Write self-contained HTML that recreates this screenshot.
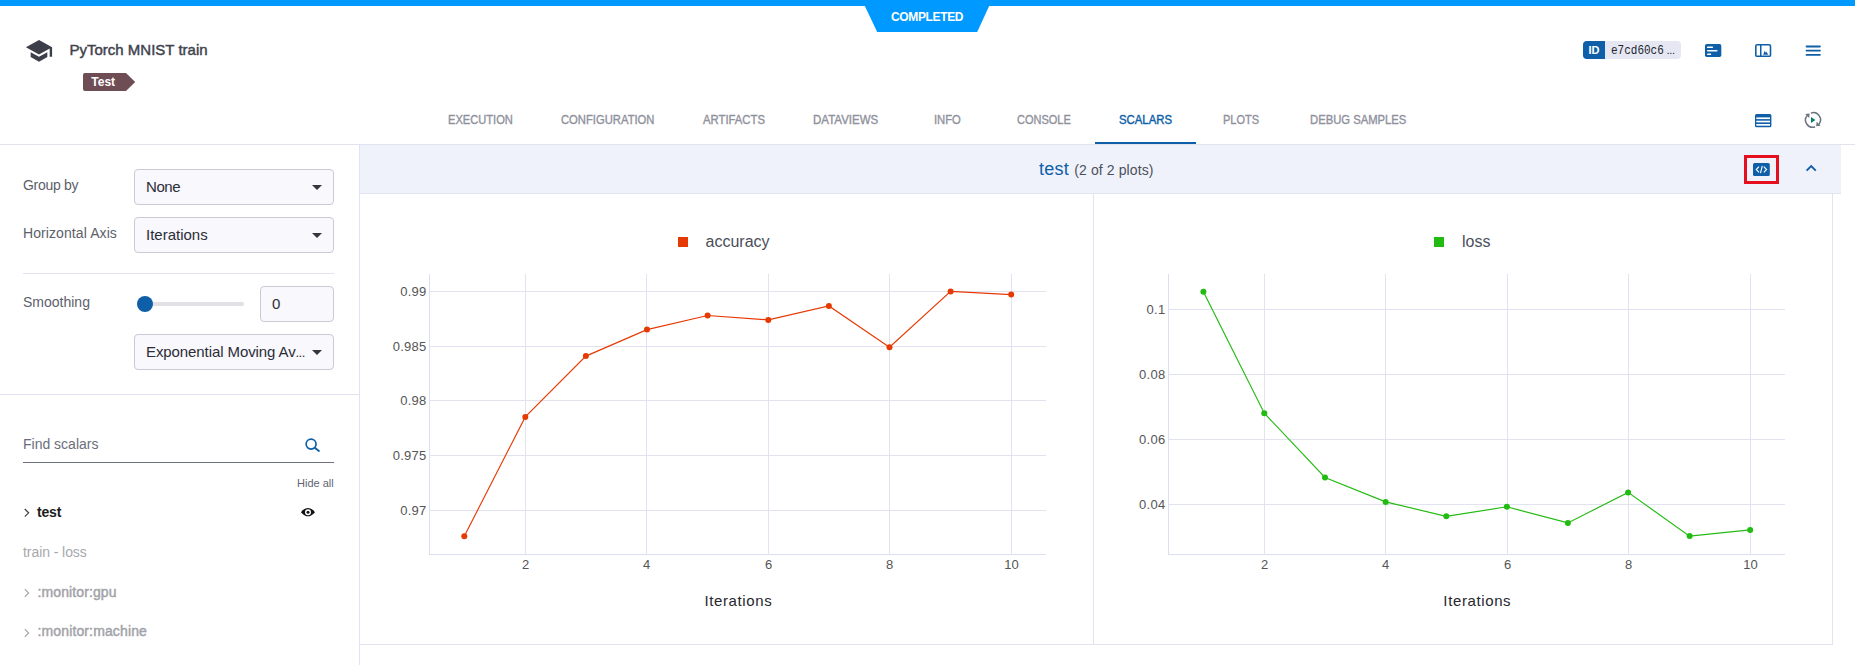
<!DOCTYPE html>
<html>
<head>
<meta charset="utf-8">
<title>PyTorch MNIST train</title>
<style>
*{box-sizing:border-box;margin:0;padding:0}
html,body{width:1855px;height:665px;overflow:hidden;background:#fff}
body{position:relative;font-family:"Liberation Sans",sans-serif;color:#5a5e6b}
.abs{position:absolute}
.t{position:absolute;white-space:nowrap;line-height:1}
#topbar{left:0;top:0;width:1855px;height:6px;background:#0099ff}
.tab{position:absolute;top:114px;font-size:12px;color:#8f919c;white-space:nowrap;line-height:12px;-webkit-text-stroke:.35px #8f919c;transform-origin:0 0}
.tab.active{color:#0e5fa8;-webkit-text-stroke:.4px #0e5fa8}
.m{-webkit-text-stroke:.4px}
.hline{position:absolute;height:1px;background:#e1e4f0}
.vline{position:absolute;width:1px;background:#e1e4f0}
.sel{position:absolute;left:134px;width:200px;height:36px;border:1px solid #c8cad6;border-radius:4px;background:#f8f8fd}
.sel .v{position:absolute;left:11px;top:7.7px;font-size:15px;line-height:17px;color:#2b2d36;white-space:nowrap}
.sel .ar{position:absolute;left:177px;top:15px;width:0;height:0;border-left:5px solid transparent;border-right:5px solid transparent;border-top:5px solid #33353f}
.lbl{position:absolute;left:23px;font-size:14px;line-height:17px;color:#5c5f6b;white-space:nowrap}
.item{position:absolute;font-size:14px;line-height:17px;white-space:nowrap}
</style>
</head>
<body>
<!-- top status bar -->
<div id="topbar" class="abs"></div>
<svg class="abs" style="left:860px;top:0" width="135" height="34" viewBox="0 0 135 34">
  <polygon points="4.6,5.5 129.4,5.5 117.2,32 17.2,32" fill="#0099ff"/>
</svg>
<div class="t" id="completed" style="left:891px;top:11px;font-size:12px;font-weight:bold;color:#fff;line-height:12px;letter-spacing:-.35px">COMPLETED</div>

<!-- header -->
<svg class="abs" style="left:20px;top:34px" width="40" height="32" viewBox="0 0 40 32">
  <path transform="translate(4.72 2.43) scale(1.19 1.2)" d="M5 13.18v4L12 21l7-3.82v-4L12 17l-7-3.82zM12 3L1 9l11 6 9-4.91V17h2V9L12 3z" fill="#3c3f49"/>
</svg>
<div class="t" id="title" style="left:69.5px;top:42px;font-size:15px;color:#3f434e;line-height:16px;-webkit-text-stroke:.45px #3f434e">PyTorch MNIST train</div>
<svg class="abs" style="left:82px;top:72px" width="56" height="20" viewBox="0 0 56 20">
  <path d="M3 1 H44 L53.2 10 L44 19 H3 Q1 19 1 17 V3 Q1 1 3 1 Z" fill="#6f4d55"/>
</svg>
<div class="t" id="tag" style="left:91.3px;top:76px;font-size:12px;font-weight:bold;color:#fff;line-height:12px">Test</div>

<!-- id badge -->
<div class="abs" style="left:1583px;top:41px;width:98px;height:18px;border-radius:4px;background:#e5e8f3;overflow:hidden">
  <div class="abs" style="left:0;top:0;width:22px;height:18px;background:#0e5fa8"></div>
</div>
<div class="t" id="idt" style="left:1588.4px;top:45px;font-size:11px;font-weight:bold;color:#fff;line-height:11px">ID</div>
<div class="t" id="idv" style="left:1611px;top:44.6px;font-size:11px;font-family:'Liberation Mono',monospace;color:#23252e;line-height:12px;transform:scaleY(1.08);transform-origin:0 50%">e7cd60c6</div>
<div class="t" id="idd" style="left:1666.5px;top:44.4px;font-size:11px;color:#23252e;line-height:12px;letter-spacing:-0.3px">...</div>

<!-- header icons -->
<svg class="abs" style="left:1700px;top:40px" width="130" height="22" viewBox="0 0 130 22">
  <!-- icon1 filled card -->
  <rect x="5" y="4" width="16.3" height="13" rx="1.8" fill="#0e5fa8"/>
  <rect x="7" y="6.6" width="6" height="1.5" rx=".7" fill="#fff"/>
  <rect x="7" y="10" width="10.5" height="1.5" rx=".7" fill="#fff"/>
  <rect x="7" y="13.4" width="4.2" height="1.5" rx=".7" fill="#fff"/>
  <!-- icon2 outlined panels -->
  <rect x="55.8" y="4.8" width="14.7" height="11.5" rx="1.4" fill="none" stroke="#0e5fa8" stroke-width="1.6"/>
  <rect x="60" y="4.8" width="1.5" height="11.5" fill="#0e5fa8"/>
  <path d="M63.2 14.8 L64.6 10.8 L65.8 12.8 L66.6 11.8 L68.2 14.8 Z" fill="#0e5fa8"/>
  <!-- icon3 hamburger -->
  <rect x="105.6" y="5.6" width="15.2" height="1.8" rx=".8" fill="#0e5fa8"/>
  <rect x="105.6" y="9.8" width="15.2" height="1.8" rx=".8" fill="#0e5fa8"/>
  <rect x="105.6" y="14" width="15.2" height="1.8" rx=".8" fill="#0e5fa8"/>
</svg>

<!-- tabs -->
<div class="tab" id="tb1" style="left:448px;transform:scaleX(0.927)">EXECUTION</div>
<div class="tab" id="tb2" style="left:561px;transform:scaleX(0.937)">CONFIGURATION</div>
<div class="tab" id="tb3" style="left:703px;transform:scaleX(0.942)">ARTIFACTS</div>
<div class="tab" id="tb4" style="left:813px;transform:scaleX(0.959)">DATAVIEWS</div>
<div class="tab" id="tb5" style="left:934px;transform:scaleX(0.937)">INFO</div>
<div class="tab" id="tb6" style="left:1017px;transform:scaleX(0.917)">CONSOLE</div>
<div class="tab active" id="tb7" style="left:1119px;transform:scaleX(0.946)">SCALARS</div>
<div class="tab" id="tb8" style="left:1223px;transform:scaleX(0.914)">PLOTS</div>
<div class="tab" id="tb9" style="left:1310px;transform:scaleX(0.938)">DEBUG SAMPLES</div>
<div class="abs" style="left:1095px;top:142px;width:101px;height:2px;background:#0e5fa8"></div>

<!-- tab row icons -->
<svg class="abs" style="left:1750px;top:108px" width="80" height="26" viewBox="0 0 80 26">
  <rect x="5" y="6" width="16.4" height="13.3" rx="1.6" fill="#0e5fa8"/>
  <rect x="6.3" y="9.4" width="13.7" height="1.7" fill="#fff"/>
  <rect x="6.3" y="12.7" width="13.7" height="1.7" fill="#fff"/>
  <rect x="6.3" y="16" width="13.7" height="1.7" fill="#fff"/>
  <!-- refresh-play -->
  <g fill="none" stroke="#6c727f" stroke-width="1.5">
    <path d="M60.9 5.1 A7.1 7.1 0 0 1 68.9 16.2"/>
    <path d="M65.1 18.7 A7.1 7.1 0 0 1 57.1 7.6"/>
  </g>
  <path d="M55.2 6 L59.6 5.6 L59.2 10 Z" fill="#6c727f"/>
  <path d="M70.6 17.8 L66.2 18.2 L66.6 13.8 Z" fill="#6c727f"/>
  <path d="M61 9 L65.4 11.9 L61 14.9 Z" fill="#0a7d67"/>
</svg>

<!-- separators -->
<div class="hline" style="left:0;top:144px;width:1855px"></div>
<div class="vline" style="left:359px;top:145px;height:520px"></div>

<!-- sidebar -->
<div class="lbl" style="top:176.6px;letter-spacing:-.31px" id="l1">Group by</div>
<div class="sel" style="top:169px"><div class="v" style="letter-spacing:-.41px">None</div><div class="ar"></div></div>
<div class="lbl" style="top:224.6px;letter-spacing:.09px" id="l2">Horizontal Axis</div>
<div class="sel" style="top:217px"><div class="v">Iterations</div><div class="ar"></div></div>
<div class="hline" style="left:23px;top:273px;width:311px"></div>
<div class="lbl" style="top:293.6px" id="l3">Smoothing</div>
<div class="abs" style="left:137px;top:302px;width:107px;height:4px;border-radius:2px;background:#dfe1e4"></div>
<div class="abs" style="left:137px;top:296px;width:16px;height:16px;border-radius:8px;background:#0e5fa8"></div>
<div class="sel" style="left:260px;top:286px;width:74px"><div class="v">0</div></div>
<div class="sel" style="top:334px"><div class="v" style="letter-spacing:-.09px">Exponential Moving Av<span style="letter-spacing:-.6px;font-size:13px">...</span></div><div class="ar"></div></div>
<div class="hline" style="left:0;top:394px;width:359px"></div>

<div class="lbl" style="top:436px;color:#6b6e7a" id="l4">Find scalars</div>
<svg class="abs" style="left:303px;top:435px" width="20" height="20" viewBox="0 0 20 20">
  <circle cx="8.1" cy="9.1" r="4.95" fill="none" stroke="#0e5fa8" stroke-width="1.7"/>
  <path d="M11.8 12.8 L15.9 16" stroke="#0e5fa8" stroke-width="1.9" stroke-linecap="round"/>
</svg>
<div class="abs" style="left:23px;top:462px;width:311px;height:1px;background:#6d707f"></div>
<div class="t" id="hideall" style="left:297px;top:478px;font-size:11px;color:#5d6472;line-height:11px">Hide all</div>

<svg class="abs" style="left:22px;top:505px" width="10" height="16" viewBox="0 0 10 16"><path d="M2.8 4 L6.6 7.8 L2.8 11.6" fill="none" stroke="#3a3d47" stroke-width="1.2"/></svg>
<div class="item" id="i1" style="left:37px;top:503.6px;letter-spacing:-.2px;font-weight:bold;color:#1b1c22">test</div>
<svg class="abs" style="left:300px;top:505px" width="16" height="14" viewBox="0 0 16 14">
  <path d="M0.9 7.2 Q8 -1.1 15 7.2 Q8 15.5 0.9 7.2 Z" fill="#111216"/>
  <circle cx="8" cy="7.2" r="3" fill="#fff"/>
  <circle cx="8" cy="7.2" r="1.5" fill="#111216"/>
</svg>
<div class="item" id="i2" style="left:23px;top:544px;letter-spacing:-.07px;color:#a7a8ad">train - loss</div>
<svg class="abs" style="left:22px;top:585px" width="10" height="16" viewBox="0 0 10 16"><path d="M2.8 4.2 L6.6 8 L2.8 11.8" fill="none" stroke="#a4a5aa" stroke-width="1.2"/></svg>
<div class="item" id="i3" style="left:37.5px;top:583.6px;letter-spacing:.11px;color:#a2a3a8;-webkit-text-stroke:.45px #a2a3a8">:monitor:gpu</div>
<svg class="abs" style="left:22px;top:625px" width="10" height="16" viewBox="0 0 10 16"><path d="M2.8 4.2 L6.6 8 L2.8 11.8" fill="none" stroke="#a4a5aa" stroke-width="1.2"/></svg>
<div class="item" id="i4" style="left:37.5px;top:623.2px;letter-spacing:.13px;color:#a2a3a8;-webkit-text-stroke:.45px #a2a3a8">:monitor:machine</div>

<!-- main section header -->
<div class="abs" style="left:360px;top:145px;width:1481px;height:49px;background:#eff2fb;border-bottom:1px solid #e1e4f1"></div>
<div class="t" id="h1" style="left:1039px;top:159px;font-size:18px;color:#0e5fa8;line-height:20px;letter-spacing:.25px">test</div>
<div class="t" id="h2" style="left:1074.3px;top:162px;font-size:14px;color:#4d505c;line-height:16px;letter-spacing:.1px">(2 of 2 plots)</div>
<div class="abs" style="left:1744px;top:155px;width:35px;height:29px;border:3px solid #e60f1e"></div>
<svg class="abs" style="left:1750px;top:160px" width="72" height="20" viewBox="0 0 72 20">
  <rect x="3" y="3" width="16.8" height="13" rx="1.6" fill="#0e5fa8"/>
  <g fill="none" stroke="#fff" stroke-width="1.1">
    <path d="M9 6.6 L6.2 9.5 L9 12.4"/>
    <path d="M13.8 6.6 L16.6 9.5 L13.8 12.4"/>
    <path d="M12.3 5.8 L10.5 13.2"/>
  </g>
  <path d="M56.6 10.6 L61.2 6 L65.8 10.6" fill="none" stroke="#0e5fa8" stroke-width="1.9"/>
</svg>

<!-- plots container borders -->
<div class="vline" style="left:1093px;top:194px;height:450px"></div>
<div class="vline" style="left:1832px;top:194px;height:451px"></div>
<div class="hline" style="left:360px;top:644px;width:1473px"></div>

<!-- CHARTS -->
<svg class="abs" id="charts" style="left:360px;top:194px" width="1472" height="450" viewBox="360 194 1472 450" font-family="Liberation Sans, sans-serif">
  <!-- left chart grid -->
  <g stroke="#e1e3f1" stroke-width="1" shape-rendering="crispEdges">
    <path d="M525.5 274V554 M646.5 274V554 M768.5 274V554 M889.5 274V554 M1011.5 274V554"/>
    <path d="M430 291.5H1046 M430 346.5H1046 M430 400.5H1046 M430 455.5H1046 M430 510.5H1046"/>
    <path d="M429.5 274V555 M429 554.5H1046" stroke="#dcdff0"/>
  </g>
  <g fill="#555" font-size="13" text-anchor="end" letter-spacing=".25">
    <text x="426.5" y="296">0.99</text>
    <text x="426.5" y="351">0.985</text>
    <text x="426.5" y="405">0.98</text>
    <text x="426.5" y="460">0.975</text>
    <text x="426.5" y="515">0.97</text>
  </g>
  <g fill="#555" font-size="13" text-anchor="middle">
    <text x="525.5" y="568.8">2</text>
    <text x="646.5" y="568.8">4</text>
    <text x="768.5" y="568.8">6</text>
    <text x="889.5" y="568.8">8</text>
    <text x="1011.5" y="568.8">10</text>
  </g>
  <text x="738.4" y="606" font-size="15" fill="#26272c" text-anchor="middle" letter-spacing=".62">Iterations</text>
  <polyline fill="none" stroke="#e63a05" stroke-width="1.15" points="464.3,536.2 525.3,416.9 585.9,356.1 647,329.6 707.6,315.5 768.3,319.9 828.9,305.9 889.5,347.2 950.6,291.4 1011.2,294.6"/>
  <g fill="#e63a05">
    <circle cx="464.3" cy="536.2" r="3"/><circle cx="525.3" cy="416.9" r="3"/><circle cx="585.9" cy="356.1" r="3"/><circle cx="647" cy="329.6" r="3"/><circle cx="707.6" cy="315.5" r="3"/><circle cx="768.3" cy="319.9" r="3"/><circle cx="828.9" cy="305.9" r="3"/><circle cx="889.5" cy="347.2" r="3"/><circle cx="950.6" cy="291.4" r="3"/><circle cx="1011.2" cy="294.6" r="3"/>
  </g>
  <rect x="678" y="237" width="10" height="10" fill="#e63a05"/>
  <text x="705.5" y="246.6" font-size="16" fill="#4a4e59">accuracy</text>

  <!-- right chart grid -->
  <g stroke="#e1e3f1" stroke-width="1" shape-rendering="crispEdges">
    <path d="M1264.5 274V554 M1385.5 274V554 M1507.5 274V554 M1628.5 274V554 M1750.5 274V554"/>
    <path d="M1169 309.5H1785 M1169 374.5H1785 M1169 439.5H1785 M1169 504.5H1785"/>
    <path d="M1168.5 274V555 M1168 554.5H1785" stroke="#dcdff0"/>
  </g>
  <g fill="#555" font-size="13" text-anchor="end" letter-spacing=".25">
    <text x="1165.4" y="314">0.1</text>
    <text x="1165.4" y="379">0.08</text>
    <text x="1165.4" y="444">0.06</text>
    <text x="1165.4" y="509">0.04</text>
  </g>
  <g fill="#555" font-size="13" text-anchor="middle">
    <text x="1264.5" y="568.8">2</text>
    <text x="1385.5" y="568.8">4</text>
    <text x="1507.5" y="568.8">6</text>
    <text x="1628.5" y="568.8">8</text>
    <text x="1750.5" y="568.8">10</text>
  </g>
  <text x="1477.3" y="606" font-size="15" fill="#26272c" text-anchor="middle" letter-spacing=".62">Iterations</text>
  <polyline fill="none" stroke="#22bb11" stroke-width="1.15" points="1203.4,291.7 1264.3,413.2 1325,477.5 1385.6,501.9 1446.3,516.3 1506.9,506.8 1567.9,522.9 1628.1,492.4 1689.6,536.1 1750.2,529.9"/>
  <g fill="#22bb11">
    <circle cx="1203.4" cy="291.7" r="3"/><circle cx="1264.3" cy="413.2" r="3"/><circle cx="1325" cy="477.5" r="3"/><circle cx="1385.6" cy="501.9" r="3"/><circle cx="1446.3" cy="516.3" r="3"/><circle cx="1506.9" cy="506.8" r="3"/><circle cx="1567.9" cy="522.9" r="3"/><circle cx="1628.1" cy="492.4" r="3"/><circle cx="1689.6" cy="536.1" r="3"/><circle cx="1750.2" cy="529.9" r="3"/>
  </g>
  <rect x="1434" y="237" width="10" height="10" fill="#22bb11"/>
  <text x="1462" y="246.6" font-size="16" fill="#4a4e59">loss</text>
</svg>
</body>
</html>
